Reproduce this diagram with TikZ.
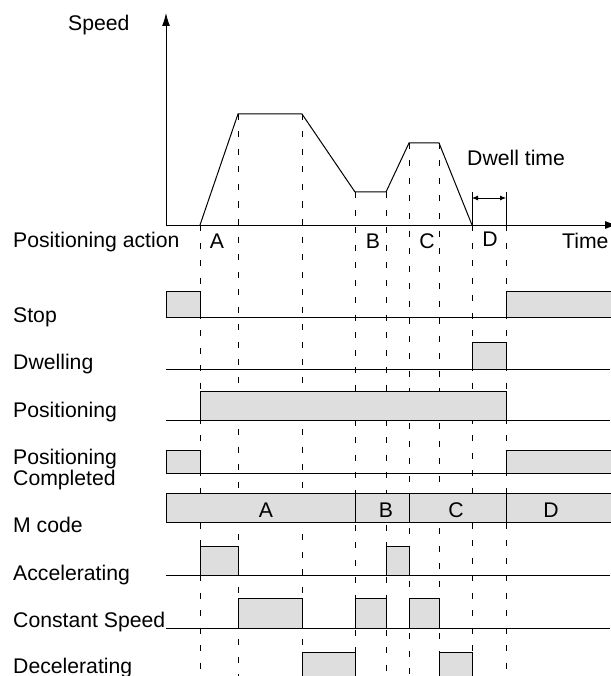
\documentclass[tikz,border=0pt]{standalone}
\usepackage{fontspec}
\setmainfont{Liberation Sans}
\usetikzlibrary{arrows.meta,positioning,calc}
\definecolor{sigfill}{gray}{0.87}

\begin{document}
\begin{tikzpicture}[>=Latex,x=1pt,y=-1pt]
  \tikzstyle{lbl}=[anchor=base west,inner sep=0pt,font=\fontsize{21.2}{24}\selectfont]
  \tikzstyle{mid}=[anchor=base,inner sep=0pt,font=\fontsize{21.2}{24}\selectfont]
  \tikzstyle{sig}=[draw,fill=sigfill,line width=1pt]
  \tikzstyle{base}=[line width=1pt]
  \tikzstyle{guide}=[line width=0.8pt,dash pattern=on 6pt off 11.5pt]

  \useasboundingbox (0,0) rectangle (610,676);

  % Speed profile points
  \coordinate (p0) at (200,225);
  \coordinate (p1) at (238,114);
  \coordinate (p2) at (302,114);
  \coordinate (p3) at (355,192);
  \coordinate (p4) at (386,192);
  \coordinate (p5) at (409,143);
  \coordinate (p6) at (439,143);
  \coordinate (p7) at (472,225);
  \coordinate (p8) at (506,225);

  % Dashed guides
  \foreach \p in {p0,p1,p2,p3,p4,p5,p6,p7,p8}
    \draw[guide] (\p) -- (\p |- 0,676);

  % Axes
  \coordinate (orig) at (166,225);
  \draw[base,-{Latex[length=13pt,width=8pt]}] (orig) -- (166,13);
  \draw[base,-{Latex[length=13pt,width=8pt]}] (orig) -- (618,225);
  \node[lbl] (speed) at (68,31) {Speed};
  \node[lbl] (time) at (562,248) {Time};
  \node[lbl] (action) at (13,247) {Positioning action};

  % Speed curve
  \draw[base] (p0) -- (p1) -- (p2) -- (p3) -- (p4) -- (p5) -- (p6) -- (p7);

  % Dwell time
  \draw[base] (p7) -- (472,192);
  \draw[base] (p8) -- (506,192);
  \draw[line width=0.8pt,{Latex[length=6pt,width=5pt]}-{Latex[length=6pt,width=5pt]}] (472,198) -- (506,198);
  \node[lbl] (dwell) at (467,166) {Dwell time};

  % Action labels
  \node[mid] (actA) at (217,248) {A};
  \node[mid] (actB) at (373,248) {B};
  \node[mid] (actC) at (427,248) {C};
  \node[mid] (actD) at (490,246) {D};

  % Stop
  \node[lbl] (stop) at (13,322) {Stop};
  \draw[sig] (166,317) rectangle (200,291);
  \draw[sig] (506,317) rectangle (612,291);
  \draw[base] (166,317) -- (610,317);

  % Dwelling
  \node[lbl] (dwelling) at (13,369) {Dwelling};
  \draw[sig] (472,369) rectangle (506,342);
  \draw[base] (166,369) -- (610,369);

  % Positioning
  \node[lbl] (posn) at (13,417) {Positioning};
  \draw[sig] (200,420) rectangle (506,391);
  \draw[base] (166,420) -- (610,420);

  % Positioning Completed
  \node[lbl] (done1) at (13,464) {Positioning};
  \node[lbl] (done2) at (13,485) {Completed};
  \draw[sig] (166,473) rectangle (200,450);
  \draw[sig] (506,473) rectangle (612,450);
  \draw[base] (166,473) -- (610,473);

  % M code
  \node[lbl] (mcode) at (13,532) {M code};
  \draw[sig] (166,522) rectangle (612,493);
  \foreach \x in {355,409,506}
    \draw[base] (\x,493) -- (\x,522);
  \node[mid] (mA) at (266,517) {A};
  \node[mid] (mB) at (386,517) {B};
  \node[mid] (mC) at (456,517) {C};
  \node[mid] (mD) at (551,517) {D};

  % Accelerating
  \node[lbl] (accel) at (13,580) {Accelerating};
  \draw[sig] (200,575) rectangle (238,546);
  \draw[sig] (386,575) rectangle (409,546);
  \draw[base] (166,575) -- (610,575);

  % Constant Speed
  \node[lbl] (const) at (13,627) {Constant Speed};
  \draw[sig] (238,628) rectangle (302,598);
  \draw[sig] (355,628) rectangle (386,598);
  \draw[sig] (409,628) rectangle (439,598);
  \draw[base] (166,628) -- (610,628);

  % Decelerating
  \node[lbl] (decel) at (13,673) {Decelerating};
  \draw[sig] (302,682) rectangle (355,652);
  \draw[sig] (439,682) rectangle (472,652);

\end{tikzpicture}
\end{document}
